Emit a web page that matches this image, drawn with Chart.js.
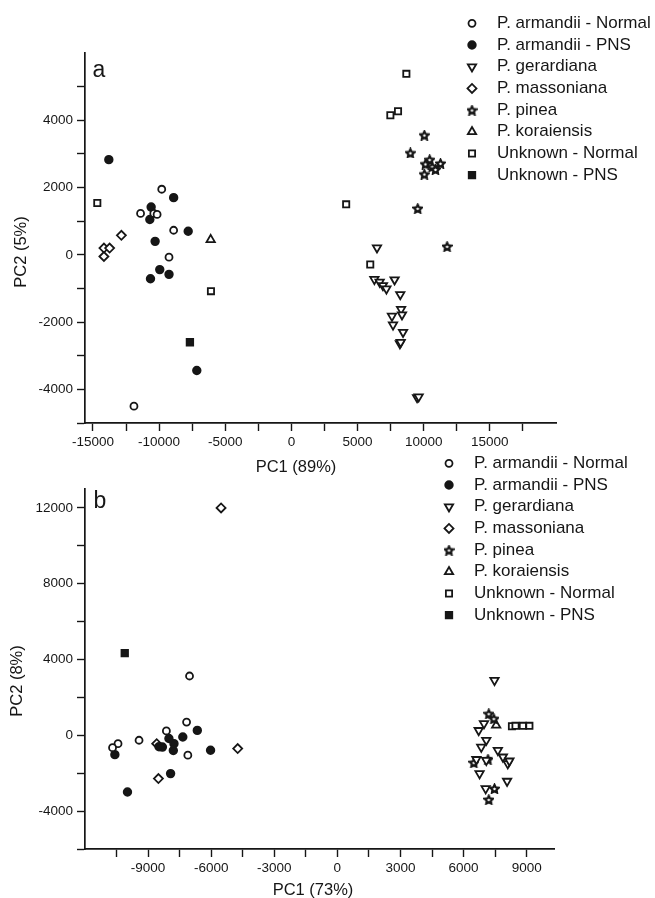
<!DOCTYPE html>
<html>
<head>
<meta charset="utf-8">
<script src="https://cdn.jsdelivr.net/npm/chart.js@4.4.1/dist/chart.umd.min.js"></script>
<style>
  html, body { margin: 0; padding: 0; background: #fff; overflow: hidden; }
  body { width: 655px; height: 898px; position: relative; }
  canvas { position: absolute; left: 0; }
  #pcaA { top: 0; }
  #pcaB { top: 440px; }
</style>
</head>
<body>
<canvas id="pcaA" width="655" height="480"></canvas>
<canvas id="pcaB" width="655" height="460"></canvas>
<script>
// Two PCA score plots (a, b), pine nut samples.

const LABELS = ["P. armandii - Normal", "P. armandii - PNS", "P. gerardiana", "P. massoniana",
                "P. pinea", "P. koraiensis", "Unknown - Normal", "Unknown - PNS"];

// panel a: [PC1, PC2]
const A_ARM_NORMAL = [[-9800,1950],[-11400,1230],[-10400,1230],[-10150,1200],[-8900,730],[-9250,-70],[-11900,-4500]];
const A_ARM_PNS = [[-13800,2830],[-8900,1700],[-10600,1420],[-10700,1050],[-7800,700],[-10300,400],
                   [-9950,-440],[-9250,-580],[-10650,-710],[-7150,-3440]];
const A_GERARDIANA = [[6470,210],[6270,-730],[6670,-810],[6920,-910],[7180,-1010],[7800,-740],[8230,-1180],
                      [8290,-1620],[8360,-1780],[7600,-1820],[7680,-2080],[8440,-2300],[8200,-2640],[8260,-2600],
                      [9500,-4240],[9620,-4220]];
const A_MASSONIANA = [[-12850,580],[-14170,200],[-13740,200],[-14170,-50]];
const A_PINEA = [[10050,3560],[8990,3030],[10450,2830],[10130,2700],[10640,2620],[11270,2720],[10890,2540],
                 [10050,2400],[9550,1380],[11770,250]];
const A_KORAIENSIS = [[-6100,450]];
const A_UNK_NORMAL = [[-14670,1540],[-6080,-1080],[8690,5380],[7480,4150],[8060,4270],[4140,1500],[5960,-290]];
const A_UNK_PNS = [[-7670,-2600]];

// panel b
const B_ARM_NORMAL = [[-7030,3130],[-7170,700],[-8130,230],[-9430,-260],[-10430,-440],[-10690,-650],[-7110,-1050]];
const B_ARM_PNS = [[-6660,260],[-7350,-90],[-8010,-170],[-7770,-440],[-8320,-620],[-8480,-600],[-7800,-800],
                   [-6030,-790],[-10580,-1020],[-7930,-2020],[-9980,-2990]];
const B_GERARDIANA = [[7470,2900],[6970,620],[6720,260],[7080,-260],[6840,-620],[7630,-790],[7870,-1140],
                      [8100,-1490],[8180,-1350],[6610,-1270],[7080,-1320],[6760,-2020],[8070,-2420],[7050,-2810]];
const B_MASSONIANA = [[-5530,12000],[-8590,-440],[-4740,-700],[-8510,-2280]];
const B_PINEA = [[7200,1140],[7440,880],[6490,-1440],[7160,-1260],[7470,-2810],[7200,-3390]];
const B_KORAIENSIS = [[7550,530]];
const B_UNK_NORMAL = [[8300,480],[8470,500],[8820,500],[9130,500]];
const B_UNK_PNS = [[-10110,4340]];

// tick positions (labelled every `step`, the rest are minor marks)
const A_X_TICKS = [-15000,-12500,-10000,-7500,-5000,-2500,0,2500,5000,7500,10000,12500,15000,17500];
const A_Y_TICKS = [-5000,-4000,-3000,-2000,-1000,0,1000,2000,3000,4000,5000];
const B_X_TICKS = [-10500,-9000,-7500,-6000,-4500,-3000,-1500,0,1500,3000,4500,6000,7500,9000];
const B_Y_TICKS = [-6000,-4000,-2000,0,2000,4000,6000,8000,10000,12000];

const FONT = '"Liberation Sans", Arial, sans-serif';
const INK = "#161616";

function starMarker(size, lw) {
  const c = document.createElement("canvas");
  c.width = c.height = size;
  const g = c.getContext("2d");
  const m = size / 2, R = size / 2 - lw * 0.55, r = R * 0.5;
  g.beginPath();
  for (let k = 0; k < 10; k++) {
    const a = -Math.PI / 2 + k * Math.PI / 5;
    const rr = k % 2 ? r : R;
    g.lineTo(m + rr * Math.cos(a), m + 0.6 + rr * Math.sin(a));
  }
  g.closePath();
  g.fillStyle = "#fff";
  g.fill();
  g.lineWidth = lw;
  g.lineJoin = "miter";
  g.strokeStyle = INK;
  g.stroke();
  return c;
}

const STAR = starMarker(11, 2.2);
const MARKERS = [
  { style: "circle",   fill: "#fff", r: 3.5 },
  { style: "circle",   fill: INK,    r: 3.8 },
  { style: "triangle", fill: "#fff", r: 4.8, rot: 180 },
  { style: "rectRot",  fill: "#fff", r: 4.5 },
  { style: STAR,       fill: "#fff", r: 5 },
  { style: "triangle", fill: "#fff", r: 4.8 },
  { style: "rect",     fill: "#fff", r: 4.4 },
  { style: "rect",     fill: INK,    r: 4.6 },
];

function datasets(groups) {
  return groups.map((pts, i) => ({
    label: LABELS[i],
    data: pts.map(([x, y]) => ({ x, y })),
    pointStyle: MARKERS[i].style,
    pointRadius: MARKERS[i].r,
    pointRotation: MARKERS[i].rot || 0,
    pointBackgroundColor: MARKERS[i].fill,
    pointBorderColor: INK,
    pointBorderWidth: 1.8,
  }));
}

function axis(min, max, ticks, step, pad, fit) {
  return {
    type: "linear", min, max,
    afterBuildTicks: (s) => { s.ticks = ticks.map(v => ({ value: v })); },
    afterFit: fit,
    ticks: {
      autoSkip: false, maxRotation: 0, padding: pad, color: INK,
      font: { family: FONT, size: 13.5 },
      callback: (v) => (v % step === 0 ? String(v) : ""),
    },
    grid: { drawOnChartArea: false, tickLength: 8, tickColor: INK, tickWidth: 1.4 },
    border: { display: true, color: INK, width: 1.7 },
  };
}

// panel letter, axis titles and the in-plot legend
const decor = {
  id: "decor",
  afterDraw(chart, args, o) {
    const ctx = chart.ctx;
    ctx.save();
    ctx.fillStyle = INK;
    ctx.textAlign = "center";
    ctx.textBaseline = "alphabetic";
    ctx.font = `23px ${FONT}`;
    ctx.fillText(o.letter, o.letterAt[0], o.letterAt[1]);
    ctx.textBaseline = "middle";
    ctx.font = `16.5px ${FONT}`;
    ctx.fillText(o.xTitle, o.xTitleAt[0], o.xTitleAt[1]);
    ctx.translate(o.yTitleAt[0], o.yTitleAt[1]);
    ctx.rotate(-Math.PI / 2);
    ctx.fillText(o.yTitle, 0, 0);
    ctx.restore();

    ctx.save();
    ctx.font = `17px ${FONT}`;
    ctx.textAlign = "left";
    ctx.textBaseline = "middle";
    chart.data.datasets.forEach((ds, i) => {
      const x = o.legendAt[0], y = o.legendAt[1] + i * 21.7;
      ctx.fillStyle = ds.pointBackgroundColor;
      ctx.strokeStyle = ds.pointBorderColor;
      ctx.lineWidth = ds.pointBorderWidth;
      Chart.helpers.drawPoint(ctx, {
        pointStyle: ds.pointStyle, rotation: ds.pointRotation,
        radius: ds.pointRadius, borderWidth: ds.pointBorderWidth,
      }, x, y);
      ctx.fillStyle = INK;
      ctx.fillText(ds.label, x + 25, y);
    });
    ctx.restore();
  },
};

function makeChart(id, groups, cfg) {
  return new Chart(document.getElementById(id), {
    type: "scatter",
    data: { datasets: datasets(groups) },
    plugins: [decor],
    options: {
      responsive: false,
      animation: false,
      events: [],
      layout: { padding: cfg.padding },
      plugins: { legend: { display: false }, tooltip: { enabled: false }, decor: cfg.decor },
      scales: {
        x: axis(cfg.x[0], cfg.x[1], cfg.xTicks, cfg.xStep, 3, (s) => { s.height = cfg.xHeight; }),
        y: axis(cfg.y[0], cfg.y[1], cfg.yTicks, cfg.yStep, 4, (s) => { s.width = 85; }),
      },
    },
  });
}

makeChart("pcaA",
  [A_ARM_NORMAL, A_ARM_PNS, A_GERARDIANA, A_MASSONIANA, A_PINEA, A_KORAIENSIS, A_UNK_NORMAL, A_UNK_PNS],
  {
    padding: { top: 53, right: 99, left: 0, bottom: 0 },
    xHeight: 57,
    x: [-15600, 20000], xTicks: A_X_TICKS, xStep: 5000,
    y: [-5000, 6000], yTicks: A_Y_TICKS, yStep: 2000,
    decor: {
      letter: "a", letterAt: [99, 77],
      xTitle: "PC1 (89%)", xTitleAt: [296, 467],
      yTitle: "PC2 (5%)", yTitleAt: [21, 252],
      legendAt: [472, 23.3],
    },
  });

makeChart("pcaB",
  [B_ARM_NORMAL, B_ARM_PNS, B_GERARDIANA, B_MASSONIANA, B_PINEA, B_KORAIENSIS, B_UNK_NORMAL, B_UNK_PNS],
  {
    padding: { top: 49, right: 101, left: 0, bottom: 0 },
    xHeight: 51,
    x: [-12000, 10300], xTicks: B_X_TICKS, xStep: 3000,
    y: [-6000, 13000], yTicks: B_Y_TICKS, yStep: 4000,
    decor: {
      letter: "b", letterAt: [100, 68],
      xTitle: "PC1 (73%)", xTitleAt: [313, 450],
      yTitle: "PC2 (8%)", yTitleAt: [17.5, 241],
      legendAt: [449, 23.3],
    },
  });
</script>
</body>
</html>
